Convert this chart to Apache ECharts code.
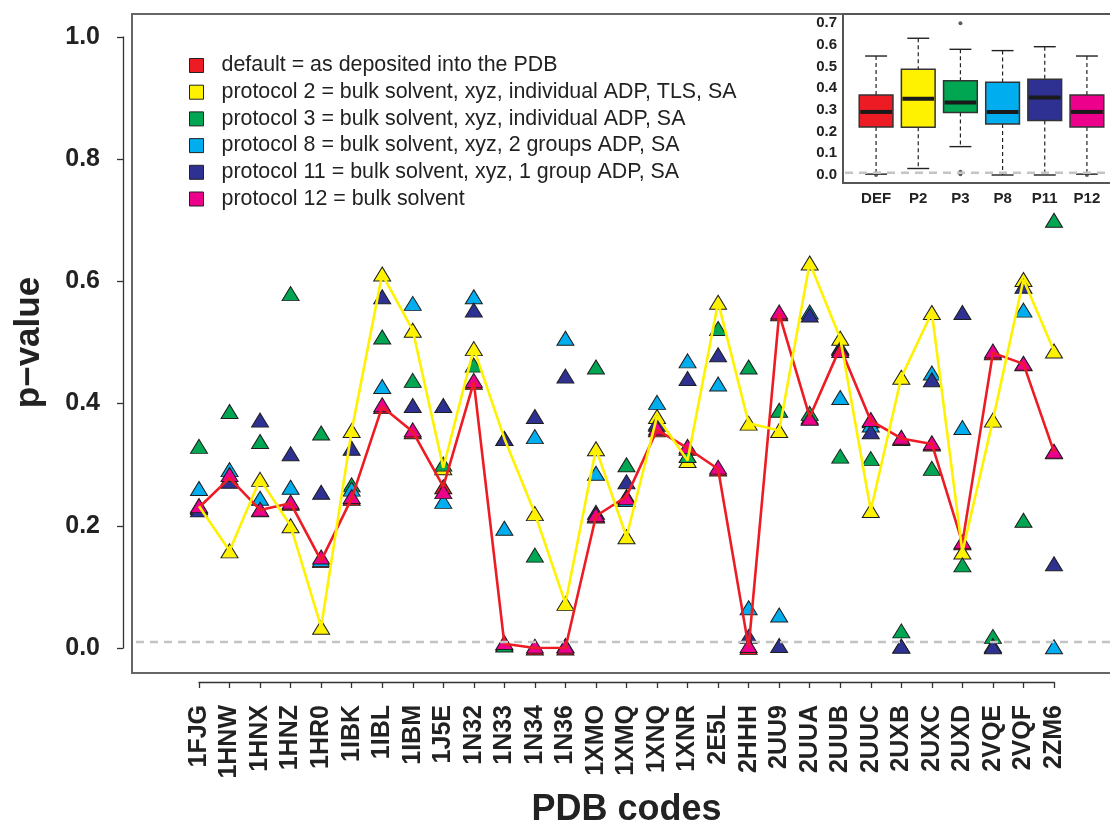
<!DOCTYPE html>
<html>
<head>
<meta charset="utf-8">
<script src="https://cdn.jsdelivr.net/npm/echarts@6/dist/echarts.min.js"></script>
<style>
  html, body { margin: 0; padding: 0; background: #fff; }
  #chart { width: 1110px; height: 823px; }
</style>
</head>
<body>
<div id="chart"></div>
<script>
// PDB entries on the x axis
const categories = ['1FJG', '1HNW', '1HNX', '1HNZ', '1HR0', '1IBK', '1IBL', '1IBM', '1J5E', '1N32',
  '1N33', '1N34', '1N36', '1XMO', '1XMQ', '1XNQ', '1XNR', '2E5L', '2HHH', '2UU9',
  '2UUA', '2UUB', '2UUC', '2UXB', '2UXC', '2UXD', '2VQE', '2VQF', '2ZM6'];

// p-values per refinement protocol, one value per PDB entry
const pDefault = [0.230, 0.278, 0.226, 0.237, 0.143, 0.245, 0.395, 0.354, 0.264, 0.435,
  0.007, 0.000, 0.000, 0.216, 0.248, 0.357, 0.327, 0.293, 0.001, 0.547,
  0.378, 0.492, 0.372, 0.343, 0.334, 0.172, 0.483, 0.465, 0.321];
const pProt2 = [0.232, 0.159, 0.276, 0.200, 0.034, 0.356, 0.612, 0.520, 0.295, 0.490,
  0.343, 0.220, 0.073, 0.326, 0.182, 0.379, 0.307, 0.566, 0.368, 0.356,
  0.630, 0.507, 0.225, 0.443, 0.549, 0.157, 0.373, 0.603, 0.486];
const pProt3 = [0.330, 0.387, 0.338, 0.580, 0.352, 0.267, 0.509, 0.438, 0.301, 0.463,
  0.005, 0.152, 0.004, 0.460, 0.300, 0.366, 0.315, 0.523, 0.460, 0.389,
  0.384, 0.314, 0.310, 0.028, 0.294, 0.136, 0.019, 0.209, 0.700];
const pProt8 = [0.261, 0.292, 0.245, 0.263, 0.145, 0.260, 0.428, 0.564, 0.240, 0.575,
  0.196, 0.346, 0.507, 0.286, 0.243, 0.402, 0.470, 0.432, 0.066, 0.054,
  0.550, 0.410, 0.365, 0.003, 0.450, 0.361, 0.004, 0.553, 0.002];
const pProt11 = [0.226, 0.273, 0.373, 0.318, 0.255, 0.327, 0.575, 0.397, 0.397, 0.553,
  0.343, 0.379, 0.445, 0.222, 0.272, 0.368, 0.441, 0.480, 0.019, 0.004,
  0.545, 0.490, 0.354, 0.003, 0.439, 0.549, 0.002, 0.592, 0.138];
const pProt12 = [0.233, 0.284, 0.227, 0.239, 0.149, 0.248, 0.398, 0.357, 0.256, 0.438,
  0.009, 0.003, 0.003, 0.218, 0.246, 0.360, 0.330, 0.296, 0.004, 0.550,
  0.376, 0.487, 0.374, 0.345, 0.336, 0.174, 0.486, 0.466, 0.322];

// main y axis ticks
const yTicks = [0, 0.2, 0.4, 0.6, 0.8, 1.0];
// significance threshold drawn as a dashed line
const threshold = 0.01;

// summary boxplots: [lower whisker, Q1, median, Q3, upper whisker]
const boxLabels = ['DEF', 'P2', 'P3', 'P8', 'P11', 'P12'];
const boxStats = [
  [0.004, 0.222, 0.291, 0.369, 0.549],
  [0.030, 0.220, 0.352, 0.488, 0.631],
  [0.131, 0.288, 0.334, 0.435, 0.580],
  [0.000, 0.235, 0.291, 0.428, 0.574],
  [0.000, 0.251, 0.358, 0.442, 0.592],
  [0.004, 0.222, 0.291, 0.369, 0.549]
];
// boxplot outliers: [box index, value]
const boxOutliers = [[0, 0.0], [2, 0.700], [2, 0.015], [2, 0.003], [5, 0.0]];

const names = [
  'default = as deposited into the PDB',
  'protocol 2 = bulk solvent, xyz, individual ADP, TLS, SA',
  'protocol 3 = bulk solvent, xyz, individual ADP, SA',
  'protocol 8 = bulk solvent, xyz, 2 groups ADP, SA',
  'protocol 11 = bulk solvent, xyz, 1 group ADP, SA',
  'protocol 12 = bulk solvent'
];
const colors = ['#ED1C24', '#FFF200', '#00A651', '#00AEEF', '#2E3192', '#EC008C'];
const seriesData = [pDefault, pProt2, pProt3, pProt8, pProt11, pProt12];

const FONT = '"Liberation Sans", Arial, Helvetica, sans-serif';

const scatterSeries = seriesData.map((d, i) => ({
  name: names[i],
  type: 'scatter',
  xAxisIndex: 0,
  yAxisIndex: 0,
  data: d,
  symbol: 'triangle',
  symbolSize: [17, 14],
  itemStyle: { color: colors[i], borderColor: '#1e1e1e', borderWidth: 1, opacity: 1 },
  z: 2,
  silent: true
}));

const lineSeries = [0, 1].map(i => ({
  name: names[i],
  type: 'line',
  xAxisIndex: 0,
  yAxisIndex: 0,
  data: seriesData[i],
  symbol: 'none',
  lineStyle: { color: colors[i], width: 2.6 },
  z: 4,
  silent: true
}));

const boxSeries = {
  type: 'custom',
  xAxisIndex: 1,
  yAxisIndex: 1,
  data: boxStats.map((s, i) => [i].concat(s)),
  encode: { x: 0, y: [1, 2, 3, 4, 5] },
  z: 3,
  silent: true,
  renderItem: function (params, api) {
    const i = api.value(0);
    const lo = api.coord([i, api.value(1)]);
    const q1 = api.coord([i, api.value(2)]);
    const med = api.coord([i, api.value(3)]);
    const q3 = api.coord([i, api.value(4)]);
    const hi = api.coord([i, api.value(5)]);
    const band = api.size([1, 0])[0];
    const bw = band * 0.8;
    const cw = band * 0.52;
    const x = med[0];
    const dash = { stroke: '#222', lineWidth: 1.2, lineDash: [4, 3] };
    const solid = { stroke: '#222', lineWidth: 1.4 };
    return {
      type: 'group',
      children: [
        { type: 'line', shape: { x1: x, y1: hi[1], x2: x, y2: q3[1] }, style: dash },
        { type: 'line', shape: { x1: x, y1: q1[1], x2: x, y2: lo[1] }, style: dash },
        { type: 'line', shape: { x1: x - cw / 2, y1: hi[1], x2: x + cw / 2, y2: hi[1] }, style: solid },
        { type: 'line', shape: { x1: x - cw / 2, y1: lo[1], x2: x + cw / 2, y2: lo[1] }, style: solid },
        { type: 'rect', shape: { x: x - bw / 2, y: q3[1], width: bw, height: q1[1] - q3[1] },
          style: { fill: colors[i], stroke: '#333', lineWidth: 1.5 } },
        { type: 'line', shape: { x1: x - bw / 2 + 1, y1: med[1], x2: x + bw / 2 - 1, y2: med[1] },
          style: { stroke: '#1a1a1a', lineWidth: 4 } }
      ]
    };
  }
};

const outlierSeries = {
  type: 'scatter',
  xAxisIndex: 1,
  yAxisIndex: 1,
  data: boxOutliers,
  symbol: 'circle',
  symbolSize: 4,
  itemStyle: { color: '#333' },
  z: 4,
  silent: true
};

const chart = echarts.init(document.getElementById('chart'), null, { renderer: 'canvas' });

chart.setOption({
  animation: false,
  backgroundColor: '#ffffff',
  textStyle: { fontFamily: FONT },
  legend: {
    data: names,
    orient: 'vertical',
    left: 184,
    top: 50,
    itemWidth: 14,
    itemHeight: 14,
    itemGap: 5.7,
    icon: 'rect',
    selectedMode: false,
    itemStyle: { borderColor: '#222', borderWidth: 1 },
    textStyle: { fontFamily: FONT, fontSize: 21.4, color: '#222', padding: [0, 0, 0, 13] }
  },
  grid: [
    { left: 199, right: 56, top: 37, bottom: 175, containLabel: false, outerBoundsMode: 'none' },
    { left: 855, right: 2, top: 23.3, bottom: 648, containLabel: false, outerBoundsMode: 'none' }
  ],
  xAxis: [
    {
      type: 'category',
      gridIndex: 0,
      data: categories,
      boundaryGap: false,
      position: 'bottom',
      offset: 34,
      axisLine: { show: true, onZero: false, lineStyle: { color: '#333', width: 1.3 } },
      axisTick: { show: true, length: 6, inside: false, lineStyle: { color: '#333', width: 1.3 } },
      axisLabel: {
        rotate: 90, margin: 23, interval: 0,
        fontFamily: FONT, fontSize: 25, fontWeight: 'bold', color: '#222'
      },
      splitLine: { show: false },
      name: 'PDB codes',
      nameLocation: 'middle',
      nameGap: 110,
      nameTextStyle: { fontFamily: FONT, fontSize: 36, fontWeight: 'bold', color: '#222' }
    },
    {
      type: 'category',
      gridIndex: 1,
      data: boxLabels,
      boundaryGap: true,
      axisLine: { show: false, onZero: false },
      axisTick: { show: false },
      axisLabel: { margin: 16, fontFamily: FONT, fontSize: 15, fontWeight: 'bold', color: '#222', interval: 0 },
      splitLine: { show: false }
    }
  ],
  yAxis: [
    {
      type: 'value',
      gridIndex: 0,
      min: yTicks[0],
      max: yTicks[yTicks.length - 1],
      interval: yTicks[1] - yTicks[0],
      position: 'left',
      offset: 76,
      axisLine: { show: true, onZero: false, lineStyle: { color: '#333', width: 1.3 } },
      axisTick: { show: true, length: 6, lineStyle: { color: '#333', width: 1.3 } },
      axisLabel: {
        margin: 23, fontFamily: FONT, fontSize: 25, fontWeight: 'bold', color: '#222',
        formatter: v => v.toFixed(1)
      },
      splitLine: { show: false },
      name: 'p\u2212value',
      nameLocation: 'middle',
      nameGap: 76,
      nameRotate: 90,
      nameTextStyle: { fontFamily: FONT, fontSize: 35, fontWeight: 'bold', color: '#222' }
    },
    {
      type: 'value',
      gridIndex: 1,
      min: 0,
      max: 0.7,
      interval: 0.1,
      axisLine: { show: false },
      axisTick: { show: false },
      axisLabel: {
        margin: 18, fontFamily: FONT, fontSize: 15, fontWeight: 'bold', color: '#222',
        formatter: v => v.toFixed(1)
      },
      splitLine: { show: false }
    }
  ],
  graphic: [
    { id: 'mainFrame', type: 'rect', z: 0, silent: true,
      shape: { x: 132, y: 14, width: 990, height: 659 },
      style: { fill: 'none', stroke: '#666', lineWidth: 2 } },
    { id: 'insetFrame', type: 'rect', z: 1, silent: true,
      shape: { x: 843, y: 14, width: 280, height: 169 },
      style: { fill: '#fff', stroke: '#555', lineWidth: 2 } }
  ],
  series: scatterSeries.concat(lineSeries, [boxSeries, outlierSeries])
});

// dashed threshold lines placed through the axes' own scales
const yMain = chart.convertToPixel({ yAxisIndex: 0 }, threshold);
const yInset = chart.convertToPixel({ yAxisIndex: 1 }, threshold);
chart.setOption({
  graphic: [
    { id: 'thrMain', type: 'line', z: 20, silent: true,
      shape: { x1: 136, y1: yMain, x2: 1110, y2: yMain },
      style: { stroke: '#c4c4c4', lineWidth: 2.5, lineDash: [8, 6] } },
    { id: 'thrInset', type: 'line', z: 20, silent: true,
      shape: { x1: 845, y1: yInset, x2: 1110, y2: yInset },
      style: { stroke: '#c4c4c4', lineWidth: 2.5, lineDash: [8, 6] } }
  ]
});
</script>
</body>
</html>
